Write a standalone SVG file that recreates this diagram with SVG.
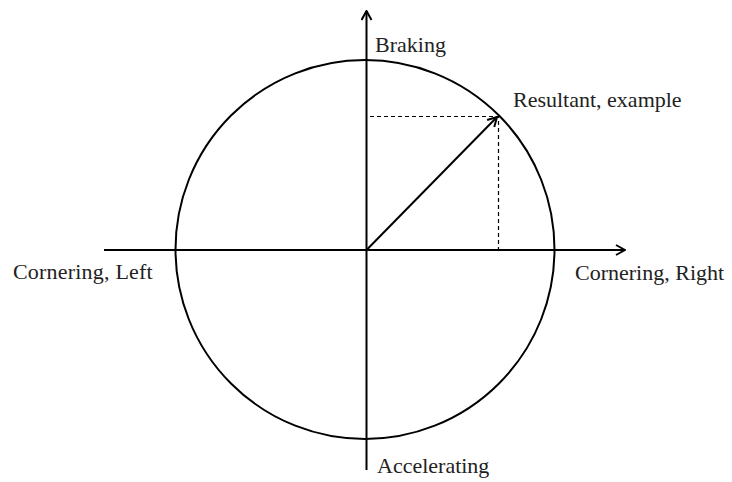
<svg xmlns="http://www.w3.org/2000/svg" width="732" height="482" viewBox="0 0 732 482">
<defs>
<marker id="chev" viewBox="0 0 12 12" refX="11" refY="6" markerWidth="12" markerHeight="12" markerUnits="userSpaceOnUse" orient="auto">
<path d="M2,1 L11,6 L2,11" fill="none" stroke="#000" stroke-width="2" stroke-linejoin="miter"/>
</marker>
<style>
.ax{stroke:#000;stroke-width:2;fill:none}
.dash{stroke:#000;stroke-width:1.2;stroke-dasharray:4 3;fill:none}
text{font-family:"Liberation Serif","Times New Roman",serif;font-size:22px;fill:#222}
</style>
</defs>
<rect width="732" height="482" fill="#fff"/>
<g id="circle"><circle cx="365" cy="249.5" r="189.5" class="ax"/></g>
<g id="connectors">
<line x1="366.5" y1="470" x2="366.5" y2="11" class="ax" marker-end="url(#chev)"/>
<line x1="104" y1="250" x2="625" y2="250" class="ax" marker-end="url(#chev)"/>
<line x1="366.5" y1="250" x2="497" y2="117" class="ax" marker-end="url(#chev)"/>
<polyline points="370,116.5 498.5,116.5 498.5,249" class="dash"/>
</g>
<g id="braking"><text x="375" y="52">Braking</text></g>
<g id="resultant"><text x="513" y="107">Resultant, example</text></g>
<g id="right"><text x="575" y="280">Cornering, Right</text></g>
<g id="left"><text x="13" y="279" letter-spacing="0.2">Cornering, Left</text></g>
<g id="accel"><text x="377" y="473">Accelerating</text></g>
</svg>
